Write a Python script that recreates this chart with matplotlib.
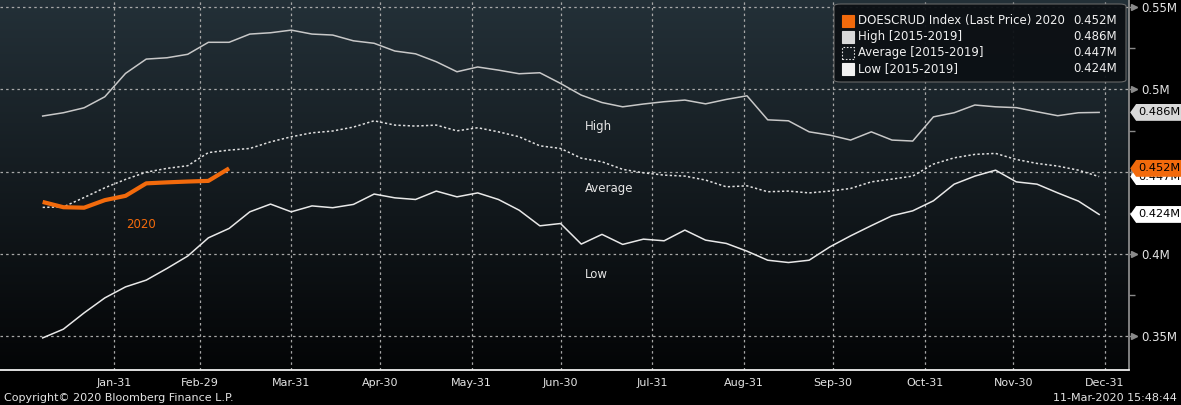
import numpy as np
import pandas as pd
import matplotlib
matplotlib.use('Agg')
import matplotlib.pyplot as plt
import matplotlib.dates as mdates
from matplotlib.path import Path
from matplotlib.patches import FancyBboxPatch, Rectangle

# weekly values, millions of barrels
high = [0.4838, 0.4858, 0.4888, 0.4955, 0.5097, 0.5184, 0.5192, 0.5213, 0.5286, 0.5286,
        0.5336, 0.5344, 0.5360, 0.5336, 0.5330, 0.5295, 0.5280, 0.5233, 0.5216, 0.5168,
        0.5107, 0.5136, 0.5117, 0.5095, 0.5101, 0.5036, 0.4965, 0.4920, 0.4894, 0.4911,
        0.4925, 0.4935, 0.4912, 0.4939, 0.4961, 0.4815, 0.4809, 0.4742, 0.4722, 0.4692,
        0.4742, 0.4692, 0.4686, 0.4833, 0.4858, 0.4905, 0.4894, 0.4889, 0.4864, 0.4840,
        0.4858, 0.4860]
average = [0.4283, 0.4286, 0.4343, 0.4402, 0.4453, 0.4497, 0.4520, 0.4536, 0.4616, 0.4631,
           0.4641, 0.4681, 0.4712, 0.4736, 0.4747, 0.4771, 0.4809, 0.4783, 0.4777, 0.4783,
           0.4748, 0.4767, 0.4742, 0.4712, 0.4657, 0.4641, 0.4582, 0.4560, 0.4514, 0.4493,
           0.4479, 0.4473, 0.4449, 0.4408, 0.4414, 0.4378, 0.4382, 0.4371, 0.4382, 0.4398,
           0.4438, 0.4455, 0.4473, 0.4546, 0.4584, 0.4605, 0.4611, 0.4574, 0.4550, 0.4534,
           0.4509, 0.4470]
low = [0.3490, 0.3543, 0.3642, 0.3733, 0.3800, 0.3841, 0.3912, 0.3987, 0.4098, 0.4155,
       0.4256, 0.4303, 0.4256, 0.4292, 0.4281, 0.4301, 0.4364, 0.4341, 0.4331, 0.4382,
       0.4347, 0.4371, 0.4331, 0.4266, 0.4171, 0.4185, 0.4060, 0.4119, 0.4058, 0.4090,
       0.4080, 0.4145, 0.4084, 0.4064, 0.4017, 0.3962, 0.3948, 0.3962, 0.4043, 0.4110,
       0.4172, 0.4232, 0.4262, 0.4323, 0.4424, 0.4473, 0.4509, 0.4438, 0.4424, 0.4371,
       0.4321, 0.4240]
y2020 = [0.4316, 0.4284, 0.4281, 0.4327, 0.4353, 0.4429, 0.4435, 0.4440, 0.4444, 0.4520]

legend_labels = ['DOESCRUD Index (Last Price) 2020', 'High [2015-2019]',
                 'Average [2015-2019]', 'Low [2015-2019]']
last_values = [y2020[-1], high[-1], average[-1], low[-1]]

dates = pd.date_range('2020-01-07', periods=len(high), freq='7D')
month_ends = pd.date_range('2020-01-31', '2020-12-31', freq='ME')

ORANGE = '#f26a0c'
TXT = '#e4e4e4'

W, H = 1181, 405
fig = plt.figure(figsize=(W / 100, H / 100), dpi=100, facecolor='black')
ax_w, ax_h = 1129, 369.5
ax = fig.add_axes([0, 1 - ax_h / H, ax_w / W, ax_h / H])
ax.set_facecolor('black')

# gradient background
grad = np.linspace(0, 1, 256)[:, None]
top = np.array([0.14, 0.19, 0.22])
bot = np.array([0.015, 0.02, 0.025])
img = top[None, None, :] * (1 - grad[:, :, None]) + bot[None, None, :] * grad[:, :, None]
ax.imshow(img, extent=[0, 1, 0, 1], transform=ax.transAxes, aspect='auto', zorder=0)

ax.set_xlim(pd.Timestamp('2019-12-23 14:00'), pd.Timestamp('2021-01-08 02:00'))
ax.set_ylim(0.3298, 0.5543)

for d in month_ends:
    ax.axvline(d, color='#a8a8a8', lw=0.9, ls=(0, (2, 2.5)), zorder=1)
for v in [0.35, 0.4, 0.45, 0.5, 0.55]:
    ax.axhline(v, color='#a8a8a8', lw=0.9, ls=(0, (2, 2.5)), zorder=1)

ax.plot(dates, high, color='#c8c8c8', lw=1.1, zorder=3)
ax.plot(dates, average, color='#e0e0e0', lw=1.1, ls=(0, (1.5, 1.5)), zorder=3)
ax.plot(dates, low, color='#e8e8e8', lw=1.1, zorder=3)
ax.plot(dates[:len(y2020)], y2020, color=ORANGE, lw=3, zorder=4, solid_capstyle='butt')

# series labels
lab_x = pd.Timestamp('2020-07-08 07:00')
ax.text(lab_x, 0.4775, 'High', color=TXT, fontsize=8.5, va='center', ha='left')
ax.text(lab_x, 0.4398, 'Average', color=TXT, fontsize=8.5, va='center', ha='left')
ax.text(lab_x, 0.3875, 'Low', color=TXT, fontsize=8.5, va='center', ha='left')
ax.text(pd.Timestamp('2020-02-04 05:00'), 0.4178, '2020', color=ORANGE, fontsize=8.5,
        va='center', ha='left')

# axes styling
for s in ['top', 'left']:
    ax.spines[s].set_visible(False)
ax.spines['bottom'].set_color('#f0f0f0')
ax.spines['bottom'].set_linewidth(1.3)
ax.spines['right'].set_color('#8a8a8a')
ax.spines['right'].set_linewidth(1.3)

ax.set_xticks(month_ends)
ax.xaxis.set_major_formatter(mdates.DateFormatter('%b-%d'))
ax.tick_params(axis='x', length=0, pad=6, colors=TXT, labelsize=8)

ax.yaxis.tick_right()
ax.set_yticks([0.35, 0.4, 0.45, 0.5, 0.55])
ax.set_yticklabels(['0.35M', '0.4M', '0.45M', '0.5M', '0.55M'])
ax.set_yticks([0.375, 0.425, 0.475, 0.525], minor=True)
ax.tick_params(axis='y', which='major', length=6, width=1, color='#8a8a8a', pad=3,
               labelcolor=TXT, labelsize=8.5)
ax.tick_params(axis='y', which='minor', length=4, width=1, color='#8a8a8a')
ytr = ax.get_yaxis_transform()
for v in [0.35, 0.4, 0.45, 0.5, 0.55]:
    ax.plot([1.004], [v], marker='>', ms=4, color='#8a8a8a', transform=ytr, clip_on=False, zorder=5)


def tag_box(x0, y0, width, height, mutation_size):
    padx = mutation_size * 0.22
    pady = mutation_size * 0.3
    x0 -= padx
    y0 -= pady
    width += 2 * padx
    height += 2 * pady
    tip = height * 0.35
    verts = [(x0 - tip, y0 + height / 2), (x0, y0), (x0 + width, y0),
             (x0 + width, y0 + height), (x0, y0 + height), (x0 - tip, y0 + height / 2)]
    return Path(verts, [Path.MOVETO] + [Path.LINETO] * 4 + [Path.CLOSEPOLY])


tag_colors = ['#ffffff', '#d9d9d9', ORANGE, '#ffffff']
for v, c in zip([average[-1], high[-1], y2020[-1], low[-1]], tag_colors):
    ax.text(1.0085, v, f'{v:.3f}M', transform=ytr, ha='left', va='center', fontsize=8.2,
            color='black', clip_on=False, zorder=6,
            bbox=dict(boxstyle=tag_box, fc=c, ec='none'))

# legend box
def px(x, y):
    return x / ax_w, 1 - y / ax_h

lx0, ly0 = px(834, 82)
lx1, ly1 = px(1126, 4)
ax.add_patch(FancyBboxPatch((lx0, ly0), lx1 - lx0, ly1 - ly0, transform=ax.transAxes,
                            boxstyle='round,pad=0,rounding_size=0.006', fc='#0c1014',
                            ec='#6a6a6a', lw=0.8, zorder=7, alpha=0.95))
sq_fc = [ORANGE, '#d9d9d9', '#141a1f', '#f2f2f2']
sq_ls = ['-', '-', (0, (1.5, 1.5)), '-']
sq_ec = [ORANGE, '#d9d9d9', '#e0e0e0', '#f2f2f2']
for k, (lab, val) in enumerate(zip(legend_labels, last_values)):
    yc = 20.5 + 16 * k
    sx, sy = px(842, yc + 6)
    sw = 12 / ax_w
    sh = 12 / ax_h
    ax.add_patch(Rectangle((sx, sy), sw, sh, transform=ax.transAxes, fc=sq_fc[k], ec=sq_ec[k],
                           ls=sq_ls[k], lw=0.8, zorder=8))
    tx, ty = px(858, yc)
    ax.text(tx, ty, lab, transform=ax.transAxes, color='#f0f0f0', fontsize=8.5,
            va='center', ha='left', zorder=8)
    vx, _ = px(1117, yc)
    ax.text(vx, ty, f'{val:.3f}M', transform=ax.transAxes, color='#f0f0f0', fontsize=8.5,
            va='center', ha='right', zorder=8)

fig.text(4 / W, 1 - 398 / H, 'Copyright\u00a9 2020 Bloomberg Finance L.P.', color=TXT,
         fontsize=8, va='center', ha='left')
fig.text(1177 / W, 1 - 398 / H, '11-Mar-2020 15:48:44', color=TXT,
         fontsize=8, va='center', ha='right')

fig.savefig('out.png', dpi=100, facecolor='black')
